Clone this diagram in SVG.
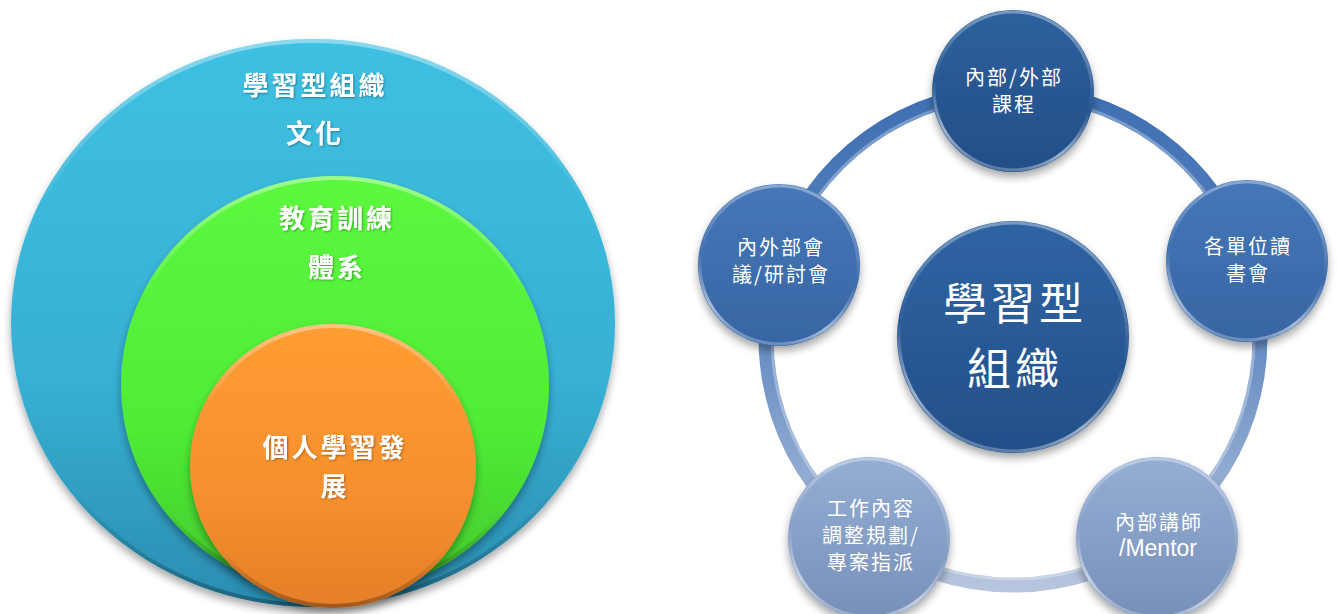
<svg xmlns="http://www.w3.org/2000/svg" width="1337" height="614" viewBox="0 0 1337 614">
<defs>
<style>
.lt{font-family:"Noto Sans CJK TC","Noto Sans CJK SC",sans-serif;font-weight:700;font-size:26px;fill:#fff;text-anchor:middle;letter-spacing:3px}
.nt{font-family:"Noto Sans CJK TC","Noto Sans CJK SC",sans-serif;font-weight:400;font-size:20px;fill:#fff;text-anchor:middle;letter-spacing:2px}
.ct{font-family:"Noto Sans CJK TC","Noto Sans CJK SC",sans-serif;font-weight:400;font-size:44px;fill:#fff;text-anchor:middle;letter-spacing:4px}
.mt{font-family:"Liberation Sans",Arial,sans-serif;font-size:23px;fill:#fff;text-anchor:middle}
.rim{fill:none;stroke:url(#rimG);stroke-width:3}
.arc{fill:none;stroke:url(#ringG);stroke-width:15;stroke-linecap:butt}
.arcH{fill:none;stroke:#fff;stroke-opacity:0.3;stroke-width:3}
</style>
<filter id="sh" x="-20%" y="-20%" width="140%" height="150%">
<feGaussianBlur in="SourceAlpha" stdDeviation="4"/>
<feOffset dx="0" dy="5" result="b"/>
<feComponentTransfer><feFuncA type="linear" slope="0.35"/></feComponentTransfer>
<feMerge><feMergeNode/><feMergeNode in="SourceGraphic"/></feMerge>
</filter>
<filter id="ts"><feDropShadow dx="1" dy="1" stdDeviation="0.8" flood-color="#000" flood-opacity="0.35"/></filter>
<linearGradient id="blueG" x1="0" y1="0" x2="0" y2="1">
<stop offset="0" stop-color="#3ec0e2"/><stop offset="0.6" stop-color="#37b0d4"/><stop offset="1" stop-color="#2b8cb0"/>
</linearGradient>
<linearGradient id="greenG" x1="0" y1="0" x2="0" y2="1">
<stop offset="0" stop-color="#5cf83f"/><stop offset="0.6" stop-color="#50ec36"/><stop offset="1" stop-color="#43c82c"/>
</linearGradient>
<linearGradient id="orangeG" x1="0" y1="0" x2="0" y2="1">
<stop offset="0" stop-color="#fe9d33"/><stop offset="0.6" stop-color="#f68f2e"/><stop offset="1" stop-color="#e57f29"/>
</linearGradient>
<linearGradient id="edgeG" x1="0" y1="0" x2="0" y2="1">
<stop offset="0" stop-color="#fff" stop-opacity="0.4"/><stop offset="0.3" stop-color="#fff" stop-opacity="0"/><stop offset="0.8" stop-color="#000" stop-opacity="0"/><stop offset="1" stop-color="#000" stop-opacity="0.3"/>
</linearGradient>
<linearGradient id="rimG" x1="0.2" y1="0" x2="0" y2="1">
<stop offset="0" stop-color="#fff" stop-opacity="0.35"/><stop offset="0.45" stop-color="#fff" stop-opacity="0"/><stop offset="0.75" stop-color="#fff" stop-opacity="0.55"/><stop offset="1" stop-color="#fff" stop-opacity="0.1"/>
</linearGradient>
<linearGradient id="ringG" gradientUnits="userSpaceOnUse" x1="0" y1="91" x2="0" y2="590">
<stop offset="0" stop-color="#3e6fb2"/><stop offset="0.45" stop-color="#5d86c0"/><stop offset="1" stop-color="#b7c6de"/>
</linearGradient>
<linearGradient id="nTop" x1="0" y1="0" x2="0" y2="1"><stop offset="0" stop-color="#2d619e"/><stop offset="1" stop-color="#234e87"/></linearGradient>
<linearGradient id="nCen" x1="0" y1="0" x2="0" y2="1"><stop offset="0" stop-color="#2f64a3"/><stop offset="1" stop-color="#234f89"/></linearGradient>
<linearGradient id="nSide" x1="0" y1="0" x2="0" y2="1"><stop offset="0" stop-color="#4577b8"/><stop offset="1" stop-color="#3865a3"/></linearGradient>
<linearGradient id="nLow" x1="0" y1="0" x2="0" y2="1"><stop offset="0" stop-color="#95aed4"/><stop offset="1" stop-color="#7790b8"/></linearGradient>
</defs>
<rect width="1337" height="614" fill="#fff"/>

<g id="left-diagram">
<g id="culture">
<ellipse cx="313" cy="323" rx="302" ry="284" fill="url(#blueG)" filter="url(#sh)"/>
<ellipse cx="313" cy="323" rx="300" ry="282" fill="none" stroke="url(#edgeG)" stroke-width="4"/>
<text class="lt" filter="url(#ts)" x="315" y="95">學習型組織</text>
<text class="lt" filter="url(#ts)" x="315" y="143">文化</text>
</g>
<g id="training">
<ellipse cx="335" cy="385" rx="214" ry="209" fill="url(#greenG)" filter="url(#sh)"/>
<ellipse cx="335" cy="385" rx="212" ry="207" fill="none" stroke="url(#edgeG)" stroke-width="4"/>
<text class="lt" filter="url(#ts)" x="337" y="228">教育訓練</text>
<text class="lt" filter="url(#ts)" x="337" y="277">體系</text>
</g>
<g id="personal">
<ellipse cx="333" cy="466" rx="143" ry="142" fill="url(#orangeG)" filter="url(#sh)"/>
<ellipse cx="333" cy="466" rx="141" ry="140" fill="none" stroke="url(#edgeG)" stroke-width="4"/>
<text class="lt" filter="url(#ts)" x="335" y="457">個人學習發</text>
<text class="lt" filter="url(#ts)" x="335" y="496">展</text>
</g>
</g>

<g id="connectors">
<path class="arc" d="M1013 91 A247 247 0 0 1 1247.9 261.7"/>
<path class="arc" d="M1247.9 261.7 A247 247 0 0 1 1158.2 537.8"/>
<path class="arc" d="M1158.2 537.8 A247 247 0 0 1 867.8 537.8"/>
<path class="arc" d="M867.8 537.8 A247 247 0 0 1 778.1 261.7"/>
<path class="arc" d="M778.1 261.7 A247 247 0 0 1 1013 91"/>
<circle class="arcH" cx="1013" cy="338" r="241"/>
</g>

<g id="node-center">
<circle cx="1013" cy="337" r="116" fill="url(#nCen)" filter="url(#sh)"/>
<circle class="rim" cx="1013" cy="337" r="114"/>
<text class="ct" x="1015" y="320">學習型</text>
<text class="ct" x="1015" y="385">組織</text>
</g>
<g id="node-top">
<circle cx="1013" cy="91" r="81" fill="url(#nTop)" filter="url(#sh)"/>
<circle class="rim" cx="1013" cy="91" r="79"/>
<text class="nt" x="1014" y="85">內部/外部</text>
<text class="nt" x="1014" y="112">課程</text>
</g>
<g id="node-right">
<circle cx="1247" cy="261" r="81" fill="url(#nSide)" filter="url(#sh)"/>
<circle class="rim" cx="1247" cy="261" r="79"/>
<text class="nt" x="1248" y="254">各單位讀</text>
<text class="nt" x="1248" y="281">書會</text>
</g>
<g id="node-bottom-right">
<circle cx="1157" cy="538" r="81" fill="url(#nLow)" filter="url(#sh)"/>
<circle class="rim" cx="1157" cy="538" r="79"/>
<text class="nt" x="1159" y="530">內部講師</text>
<text class="mt" x="1158" y="556">/Mentor</text>
</g>
<g id="node-bottom-left">
<circle cx="869" cy="538" r="81" fill="url(#nLow)" filter="url(#sh)"/>
<circle class="rim" cx="869" cy="538" r="79"/>
<text class="nt" x="871" y="516">工作內容</text>
<text class="nt" x="871" y="543">調整規劃/</text>
<text class="nt" x="871" y="570">專案指派</text>
</g>
<g id="node-left">
<circle cx="779" cy="265" r="81" fill="url(#nSide)" filter="url(#sh)"/>
<circle class="rim" cx="779" cy="265" r="79"/>
<text class="nt" x="781" y="255">內外部會</text>
<text class="nt" x="781" y="282">議/研討會</text>
</g>
</svg>
